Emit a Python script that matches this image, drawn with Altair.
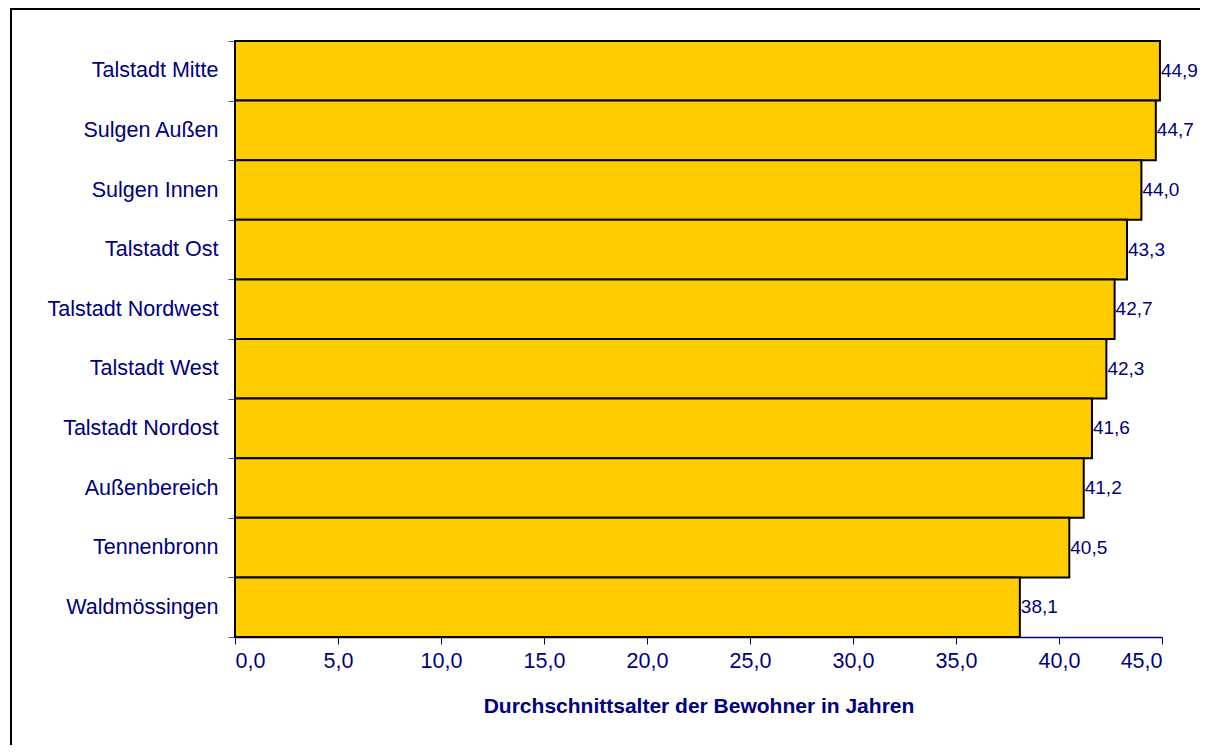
import altair as alt
import pandas as pd

categories = ["Talstadt Mitte", "Sulgen Außen", "Sulgen Innen", "Talstadt Ost",
              "Talstadt Nordwest", "Talstadt West", "Talstadt Nordost",
              "Außenbereich", "Tennenbronn", "Waldmössingen"]
values = [44.9, 44.7, 44.0, 43.3, 42.7, 42.3, 41.6, 41.2, 40.5, 38.1]
x_ticks = [0, 5, 10, 15, 20, 25, 30, 35, 40, 45]
x_title = "Durchschnittsalter der Bewohner in Jahren"

df = pd.DataFrame({"Stadtteil": categories, "Alter": values})
df["label"] = [f"{v:.1f}".replace(".", ",") for v in values]

NAVY = "#000080"
FONT = "Liberation Sans"
FS = 21.5
W, H = 927, 596
L, T = 227, 33
R = 1192 - L - W
B = 737 - T - H

y_enc = alt.Y("Stadtteil:N", sort=categories,
              scale=alt.Scale(paddingInner=0, paddingOuter=0),
              axis=alt.Axis(title=None, tickBand="extent", tickSize=7,
                            labelPadding=10, labelFontSize=FS, labelFont=FONT,
                            labelColor=NAVY, domainColor=NAVY, domainWidth=2,
                            tickColor="#5050a0", tickWidth=1, labelLimit=400))
x_enc = alt.X("Alter:Q", scale=alt.Scale(domain=[0, 45], nice=False, zero=True),
              axis=alt.Axis(values=x_ticks, grid=False, title=x_title,
                            labelExpr="replace(format(datum.value, '.1f'), '.', ',')",
                            tickSize=7, labelPadding=6, labelFontSize=FS,
                            labelFont=FONT, labelColor=NAVY, domainColor=NAVY,
                            domainWidth=1.5, tickColor=NAVY, tickWidth=1,
                            titleFont=FONT, titleFontSize=21, titleFontWeight="bold",
                            titleColor=NAVY, titlePadding=24))

bars = alt.Chart(df).mark_bar(color="#FFCC00", stroke="black", strokeWidth=2).encode(
    x=x_enc, y=y_enc)

labels = alt.Chart(df).mark_text(align="left", baseline="middle", dx=1, color=NAVY,
                                 fontSize=19, font=FONT).encode(
    x=alt.X("Alter:Q"), y=alt.Y("Stadtteil:N", sort=categories), text="label:N")

frame = alt.Chart(pd.DataFrame({"f": [0]})).mark_rect(
    filled=False, stroke="black", strokeWidth=2).encode(
    x=alt.value(-(L - 3)), x2=alt.value(W + 300),
    y=alt.value(-(T - 1)), y2=alt.value(H + 400))

chart = alt.layer(frame, bars, labels).properties(
    width=W, height=H,
    autosize=alt.AutoSizeParams(type="none"),
    padding={"left": L, "top": T, "right": R, "bottom": B},
).configure_view(stroke=None)

chart.save("out.html", embed_options={"renderer": "svg", "actions": False})
